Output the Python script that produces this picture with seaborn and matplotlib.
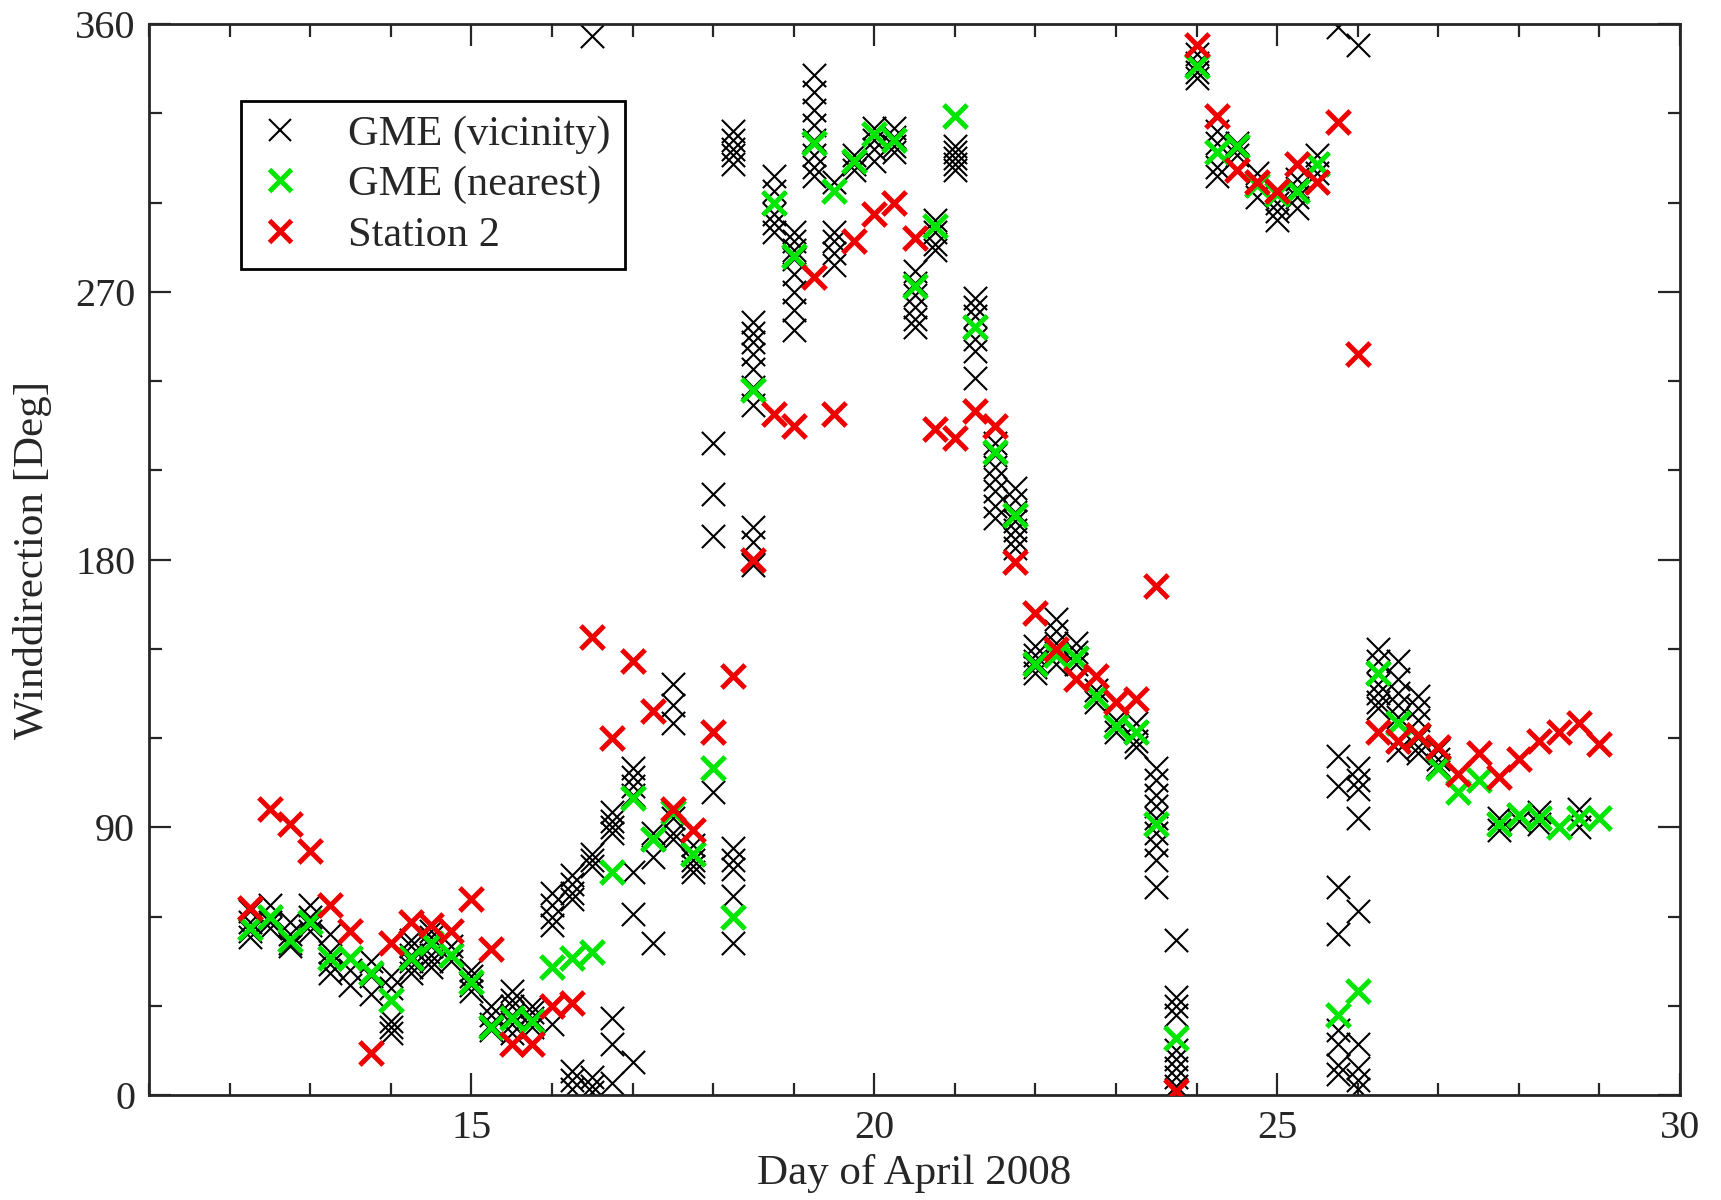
import numpy as np
import pandas as pd
import matplotlib
matplotlib.use("Agg")
import matplotlib.pyplot as plt
import seaborn as sns
from matplotlib.ticker import MultipleLocator
from matplotlib.lines import Line2D

# ---------------- data ----------------
days = [12.25, 12.5, 12.75, 13.0, 13.25, 13.5, 13.75, 14.0, 14.25, 14.5, 14.75, 15.0,
        15.25, 15.5, 15.75, 16.0, 16.25, 16.5, 16.75, 17.0, 17.25, 17.5, 17.75, 18.0,
        18.25, 18.5, 18.75, 19.0, 19.25, 19.5, 19.75, 20.0, 20.25, 20.5, 20.75, 21.0,
        21.25, 21.5, 21.75, 22.0, 22.25, 22.5, 22.75, 23.0, 23.25, 23.5, 23.75, 24.0,
        24.25, 24.5, 24.75, 25.0, 25.25, 25.5, 25.75, 26.0, 26.25, 26.5, 26.75, 27.0,
        27.25, 27.5, 27.75, 28.0, 28.25, 28.5, 28.75, 29.0]

nearest_deg = [56, 60, 52, 58, 46, 46, 41, 32, 46, 51, 47, 38,
               23, 26, 25, 43, 46, 48, 75, 100, 86, 95, 81, 110,
               60, 237, 300, 282, 320, 304, 314, 323, 321, 272, 292, 329,
               258, 216, 195, 145, 148, 147, 134, 124, 122, 91, 19, 346,
               317, 319, 306, 303, 304, 313, 27, 35, 142, 125, 121, 110,
               102, 106, 91, 94, 93, 90, 93, 93]

station_deg = [63, 96, 91, 82, 64, 55, 14, 51, 58, 57, 55, 66,
               49, 17, 17, 30, 31, 154, 120, 146, 129, 96, 89, 122,
               141, 180, 229, 225, 275, 229, 287, 296, 300, 288, 224, 221,
               230, 225, 179, 162, 150, 140, 141, 132, 133, 171, 1.5, 353,
               329, 311, 307, 304, 313, 307, 327, 249, 122, 119, 121, 117,
               108, 115, 107, 113, 119, 122, 125, 118]

vicinity_deg = [
    [62, 58, 55, 53], [64, 60, 58, 56], [58, 54, 51, 50], [64, 60, 57, 55],
    [54, 48, 44, 41], [46, 42, 37], [45, 40, 34], [40, 36, 25, 23, 21],
    [52, 50, 47, 45, 43, 41], [55, 53, 50, 47, 45, 43], [50, 47, 45], [42, 40, 37, 35],
    [30, 27, 24, 22], [35, 32, 30, 27, 24, 21], [30, 28, 26, 23], [68, 64, 60, 57, 24],
    [74, 71, 68, 66, 8, 5, 2], [356, 81, 79, 77, 6, 3, 1], [95, 92, 90, 88, 26, 17, 4],
    [110, 107, 104, 101, 75, 61, 11], [88, 86, 80, 51], [138, 131, 125, 93, 88, 86],
    [84, 81, 79, 77, 75], [219, 202, 188, 102],
    [324, 321, 318, 316, 313, 83, 79, 76, 67, 51],
    [260, 256, 253, 249, 244, 238, 232, 191, 186, 178],
    [309, 304, 300, 296, 293, 290], [290, 287, 284, 281, 276, 270, 264, 257],
    [343, 337, 331, 326, 321, 316, 312, 309], [307, 290, 287, 283, 279],
    [316, 313, 311], [325, 321, 318, 314], [325, 322, 319, 317],
    [277, 273, 269, 265, 261, 258], [294, 290, 286, 284], [319, 317, 315, 313, 311],
    [268, 265, 262, 258, 254, 250, 241], [219, 215, 211, 207, 203, 198, 194],
    [204, 200, 196, 193, 190, 187, 184], [151, 148, 146, 144, 142],
    [160, 156, 152, 148, 145], [152, 149, 147, 145], [136, 134, 132], [126, 124, 122],
    [125, 122, 119, 117], [110, 106, 101, 97, 93, 88, 84, 79, 70],
    [52, 33, 30, 27, 15, 12, 9, 6, 3], [350, 347, 344, 342],
    [324, 320, 312, 309], [320, 318, 316], [310, 306, 302], [303, 300, 297, 294],
    [308, 305, 302, 298], [316, 313, 310, 307], [359, 114, 104, 70, 54, 22, 17, 10, 7],
    [353, 110, 106, 103, 93, 62, 17, 9, 5, 2], [150, 146, 142, 138, 135, 132, 130],
    [146, 140, 135, 131, 127, 119, 116], [134, 130, 126, 120, 117, 115], [116, 113, 111],
    [], [], [93, 91, 89], [94, 92], [95, 93, 91], [], [96, 93, 90], [],
]

labels = ["GME (vicinity)", "GME (nearest)", "Station 2"]
colors = ["black", "#00e600", "#ee0000"]

# ---------------- tables ----------------
vic_rows = [(d, v) for d, vals in zip(days, vicinity_deg) for v in vals]
vic_df = pd.DataFrame(vic_rows, columns=["day", "deg"])
near_df = pd.DataFrame({"day": days, "deg": nearest_deg})
stat_df = pd.DataFrame({"day": days, "deg": station_deg})

# ---------------- style ----------------
sns.set_style("ticks")
plt.rcParams["font.family"] = ["Liberation Serif", "DejaVu Serif"]
plt.rcParams["axes.linewidth"] = 2.0

fig = plt.figure(figsize=(17.21, 12.0), dpi=100)
ax = fig.add_axes([0.0866, 0.0875, 0.8896, 0.8925])

sns.scatterplot(data=vic_df, x="day", y="deg", ax=ax, marker="x", color=colors[0],
                s=280, linewidth=1.5, legend=False, zorder=2)
sns.scatterplot(data=near_df, x="day", y="deg", ax=ax, marker="x", color=colors[1],
                s=280, linewidth=3.6, legend=False, zorder=3)
sns.scatterplot(data=stat_df, x="day", y="deg", ax=ax, marker="x", color=colors[2],
                s=280, linewidth=3.6, legend=False, zorder=4)

ax.set_xlim(11, 30)
ax.set_ylim(0, 360)
ax.xaxis.set_major_locator(MultipleLocator(5))
ax.xaxis.set_minor_locator(MultipleLocator(1))
ax.yaxis.set_major_locator(MultipleLocator(90))
ax.yaxis.set_minor_locator(MultipleLocator(30))
ax.tick_params(which="both", direction="in", top=True, right=True, width=1.6)
ax.tick_params(which="major", length=16)
ax.tick_params(which="minor", length=9)
ax.tick_params(axis="x", labelsize=29, pad=11)
ax.tick_params(axis="y", labelsize=29, pad=10)

ax.set_xlabel("Day of April 2008", fontsize=31, labelpad=5)
ax.set_ylabel("Winddirection [Deg]", fontsize=31)
ax.yaxis.set_label_coords(-0.0758, 0.5)
ax.yaxis.label.set_verticalalignment("center")

handles = [
    Line2D([], [], linestyle="none", marker="x", color=colors[0], markersize=16, markeredgewidth=1.5),
    Line2D([], [], linestyle="none", marker="x", color=colors[1], markersize=16, markeredgewidth=3.6),
    Line2D([], [], linestyle="none", marker="x", color=colors[2], markersize=16, markeredgewidth=3.6),
]
leg = ax.legend(handles, labels, loc="upper left", bbox_to_anchor=(0.060, 0.928),
                borderaxespad=0, fontsize=30.5, frameon=True, fancybox=False,
                edgecolor="black", framealpha=1, handletextpad=1.0,
                labelspacing=0.28, borderpad=0.33, handlelength=1.2)
leg.get_frame().set_linewidth(2.0)

fig.savefig("out.png", dpi=100)
